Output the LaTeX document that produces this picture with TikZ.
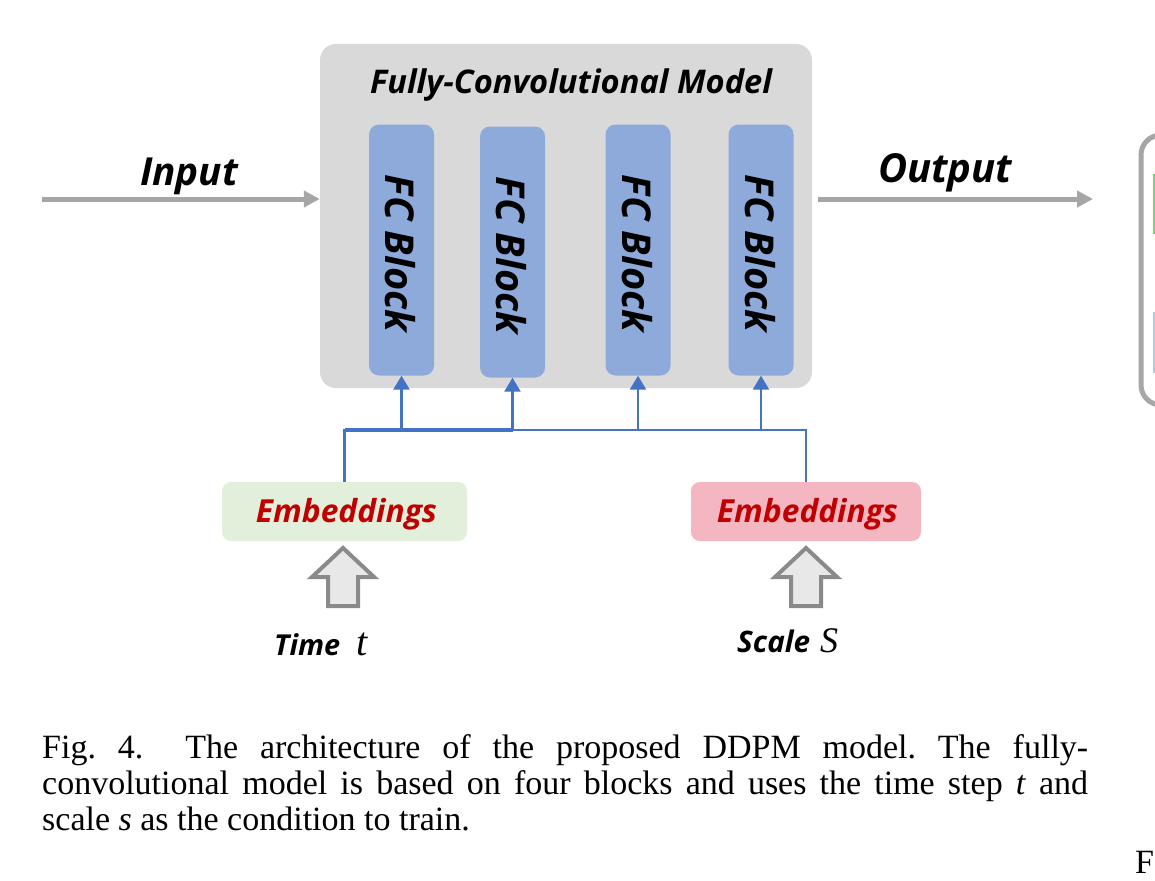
\documentclass[tikz,border=0pt]{standalone}
\usepackage{fontspec}
\setmainfont{Liberation Serif}
\newfontfamily\dfont{Open Sans}
\usepackage{graphicx}
\usetikzlibrary{arrows.meta}
\definecolor{boxgray}{HTML}{D9D9D9}
\definecolor{fcblue}{HTML}{8EAADB}
\definecolor{linkblue}{HTML}{4472C4}
\definecolor{arrgray}{HTML}{A6A6A6}
\definecolor{embgreen}{HTML}{E2EFDA}
\definecolor{embpink}{HTML}{F4B6C1}
\definecolor{darkred}{HTML}{C00000}
\definecolor{hollowgray}{HTML}{8A8A8A}
\definecolor{hollowfill}{HTML}{E8E8E8}
\newcommand{\dtext}[2]{\resizebox{#1}{!}{\dfont\bfseries\itshape #2}}
\frenchspacing
\begin{document}
\begin{tikzpicture}[x=1pt,y=-1pt,
  modelbox/.style={fill=boxgray, rounded corners=16pt, inner sep=0pt, minimum width=492pt, minimum height=344pt},
  fcbox/.style={fill=fcblue, rounded corners=10pt, inner sep=0pt, minimum width=65pt, minimum height=251pt},
  embbox/.style={rounded corners=9pt, inner sep=0pt, minimum height=59pt},
  grayarrow/.style={draw=arrgray, line width=5pt, -{Triangle[width=16pt,length=16pt]}},
  bluelink/.style={draw=linkblue, line width=2.2pt},
  bluearrow/.style={draw=linkblue, line width=2.6pt, -{Triangle[width=16pt,length=14pt]}},
  hollow/.style={draw=hollowgray, fill=hollowfill, line width=4pt, line join=miter},
  lbl/.style={inner sep=0pt, anchor=base}
]
\useasboundingbox[fill=white] (0,0) rectangle (1155,880);

% main model box
\node[modelbox] (model) at (566,216) {};
\node[lbl] (title) at (571,93) {\dtext{402pt}{Fully-Convolutional Model}};

% FC blocks
\node[fcbox] (b1) at (401.5,250) {};
\node[fcbox] (b2) at (512.5,252) {};
\node[fcbox] (b3) at (638,250) {};
\node[fcbox] (b4) at (761,250) {};
\foreach \b in {b1,b2,b3,b4}{
  \node[inner sep=0pt, rotate=-90] (t\b) at ([xshift=-1pt,yshift=-3.5pt]\b.center) {\dtext{157pt}{FC Block}};
}

% input / output
\coordinate (inS) at (42,199);
\coordinate (outE) at (1093,199);
\draw[grayarrow] (inS) -- (model.west |- inS);
\draw[grayarrow] ([xshift=6pt]model.east |- outE) -- (outE);
\node[lbl] (inlab) at (189,185) {\dtext{98pt}{Input}};
\node[lbl] (outlab) at (945,182) {\dtext{134pt}{Output}};

% embeddings
\node[embbox, fill=embgreen, minimum width=245pt] (embL) at (344.5,511.5) {};
\node[embbox, fill=embpink, minimum width=230pt] (embR) at (806,511.5) {};
\node[lbl] (embLt) at (346.5,522) {\color{darkred}\dtext{181pt}{Embeddings}};
\node[lbl] (embRt) at (807.5,522) {\color{darkred}\dtext{181pt}{Embeddings}};

% blue connectors
\coordinate (busY) at (0,430);
\draw[bluelink] (embL.north) -- (embL.north |- busY) -- (embR.north |- busY) -- (embR.north);
\draw[draw=linkblue, line width=3.2pt] (embL.north |- busY) -- (b2.south |- busY);
\foreach \b in {b1,b2,b3,b4}{
  \draw[bluearrow] (\b.south |- busY) -- (\b.south);
}

% hollow arrows
\draw[hollow] (343,548) -- (374,577) -- (358,577) -- (358,606) -- (328,606) -- (328,577) -- (312,577) -- cycle;
\draw[hollow] (806,548) -- (837,577) -- (821,577) -- (821,606) -- (791,606) -- (791,577) -- (775,577) -- cycle;

% time / scale labels
\node[inner sep=0pt, anchor=base west] (timelab) at (274,655) {\dtext{66pt}{Time}\hspace{16pt}{\fontsize{40pt}{40pt}\selectfont\itshape t}};
\node[inner sep=0pt, anchor=base west] (scalelab) at (737,652) {\dtext{73pt}{Scale}\hspace{10pt}{\fontsize{36pt}{36pt}\selectfont\itshape S}};

% partial box at right edge
\draw[draw=arrgray, line width=5pt, rounded corners=20pt, fill=white] (1141,135) rectangle (1220,405);
\draw[draw=green!40!lightgray, fill=embgreen, line width=1.5pt] (1154,175) rectangle (1200,233);
\draw[draw=linkblue!40, fill=white, line width=1.5pt] (1154,313) rectangle (1200,372);

% caption
\begin{scope}[every node/.style={inner sep=0pt, anchor=base west, font=\fontsize{34pt}{36pt}\selectfont}]
\node (cap1) at (42,758) {\makebox[1046pt][s]{Fig. 4.\hspace{20pt} The architecture of the proposed DDPM model. The fully-}};
\node (cap2) at (42,794) {\makebox[1046pt][s]{convolutional model is based on four blocks and uses the time step \textit{t} and}};
\node (cap3) at (42,830) {scale \textit{s} as the condition to train.};
\node (capF) at (1135,873) {F};
\end{scope}
\end{tikzpicture}
\end{document}
